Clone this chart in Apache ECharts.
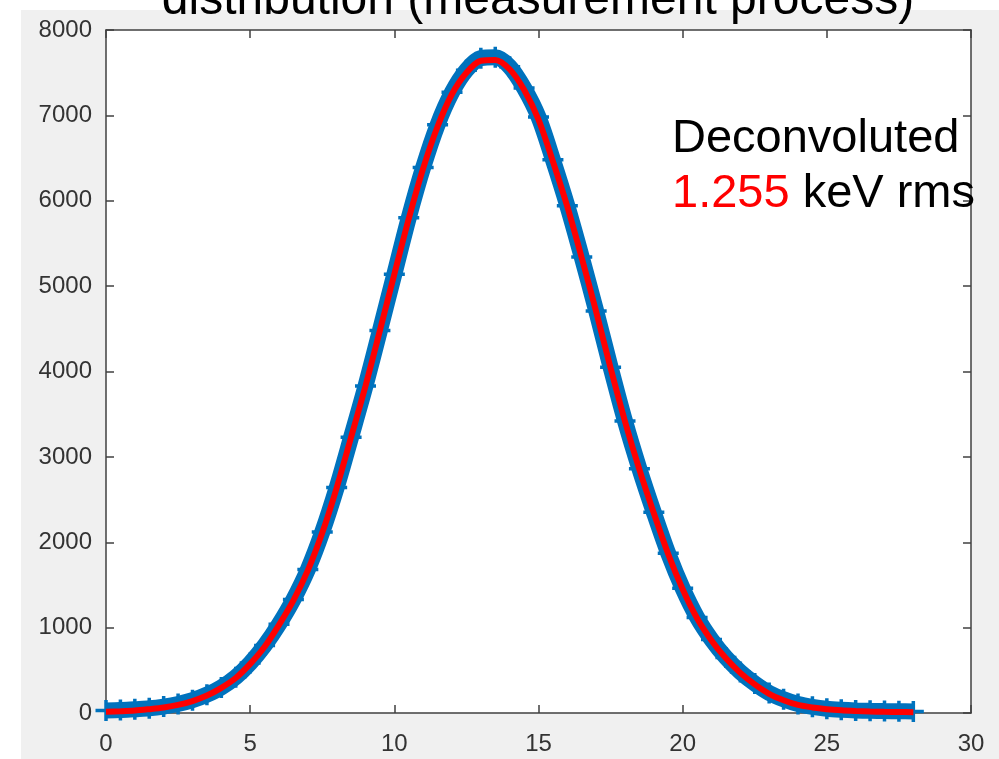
<!DOCTYPE html>
<html>
<head>
<meta charset="utf-8">
<script src="https://cdn.jsdelivr.net/npm/echarts@6/dist/echarts.min.js"></script>
<style>
html,body{margin:0;padding:0;background:#fff;}
#c{width:999px;height:759px;}
</style>
</head>
<body>
<div id="c"></div>
<script>
// Data
const energy = [0,0.5,1,1.5,2,2.5,3,3.5,4,4.5,5,5.5,6,6.5,7,7.5,8,8.5,9,9.5,10,10.5,11,11.5,12,12.5,13,13.5,14,14.5,15,15.5,16,16.5,17,17.5,18,18.5,19,19.5,20,20.5,21,21.5,22,22.5,23,23.5,24,24.5,25,25.5,26,26.5,27,27.5,28];
const measured = [30,35,45,55,75,105,150,215,300,420,585,790,1040,1330,1680,2120,2640,3230,3830,4480,5140,5800,6390,6890,7270,7530,7670,7680,7570,7320,6980,6480,5940,5340,4710,4050,3420,2860,2350,1870,1460,1120,860,650,480,345,235,160,105,72,50,38,30,25,22,20,18];
const fitted = [15,20,28,45,65,95,140,205,295,410,575,776,1033,1320,1670,2110,2638,3230,3830,4480,5140,5790,6380,6870,7250,7500,7640,7650,7540,7300,6950,6460,5930,5330,4700,4040,3415,2850,2340,1860,1450,1110,850,640,470,335,225,150,95,65,45,32,24,18,14,12,10];
const xTicks = {min:0, max:30, step:5};
const yTicks = {min:0, max:8000, step:1000};
const titleText = 'distribution (measurement process)';
const noteLine1 = 'Deconvoluted';
const noteValue = '1.255';
const noteUnit = ' keV rms';

const pairs = (xs, ys) => xs.map((x,i)=>[x, ys[i]]);
const FONT = '"Liberation Sans", Arial, sans-serif';
const axisColor = '#404040';

const chart = echarts.init(document.getElementById('c'), null, {renderer:'canvas'});
const commonX = {
  type:'value', min:xTicks.min, max:xTicks.max, interval:xTicks.step,
  axisLine:{show:true, onZero:false, lineStyle:{color:axisColor, width:1.5}},
  axisTick:{show:true, inside:true, length:8, lineStyle:{color:axisColor, width:1.5}},
  splitLine:{show:false}
};
const commonY = {
  type:'value', min:yTicks.min, max:yTicks.max, interval:yTicks.step,
  axisLine:{show:true, onZero:false, lineStyle:{color:axisColor, width:1.5}},
  axisTick:{show:true, inside:true, length:8, lineStyle:{color:axisColor, width:1.5}},
  splitLine:{show:false}
};
const plain = v => String(v);
chart.setOption({
  animation:false,
  backgroundColor:'#ffffff',
  grid:{left:106, right:28, top:30, bottom:46, show:true, backgroundColor:'#ffffff', borderWidth:0},
  xAxis:[
    Object.assign({}, commonX, {position:'bottom',
      axisLabel:{show:true, margin:19, fontSize:24, color:'#333333', fontFamily:FONT, formatter:plain}}),
    Object.assign({}, commonX, {position:'top', axisLabel:{show:false}})
  ],
  yAxis:[
    Object.assign({}, commonY, {position:'left',
      axisLabel:{show:true, margin:14, fontSize:24, color:'#333333', fontFamily:FONT, formatter:plain}}),
    Object.assign({}, commonY, {position:'right', axisLabel:{show:false}})
  ],
  series:[
    {
      type:'line', xAxisIndex:0, yAxisIndex:0,
      data:pairs(energy, measured),
      smooth:0.3, showSymbol:true, symbol:'path://M5,0H7V5H12V7H7V12H5V7H0V5H5Z',
      symbolSize:21, itemStyle:{color:'#0072BD'},
      lineStyle:{color:'#0072BD', width:16}, z:2
    },
    {
      type:'line', xAxisIndex:0, yAxisIndex:0,
      data:pairs(energy, fitted),
      smooth:0.3, showSymbol:false,
      lineStyle:{color:'#ff0000', width:6}, z:3
    }
  ],
  graphic:[
    {type:'rect', z:-10, silent:true, shape:{x:21, y:10, width:978, height:749}, style:{fill:'#f0f0f0'}},
    {type:'text', z:100, x:538, y:17 - 16.3,
      style:{text:titleText, fontSize:48, fontFamily:FONT, fill:'#000', align:'center', verticalAlign:'middle'}},
    {type:'text', z:100, x:672, y:155 - 16,
      style:{text:noteLine1, fontSize:47, fontFamily:FONT, fill:'#000', align:'left', verticalAlign:'middle'}},
    {type:'text', z:100, x:672, y:210 - 16,
      style:{text:'{r|'+noteValue+'}{k|'+noteUnit+'}', fontSize:47, fontFamily:FONT, fill:'#000', align:'left', verticalAlign:'middle',
        rich:{r:{fill:'#ff0000', fontSize:47, fontFamily:FONT}, k:{fill:'#000', fontSize:47, fontFamily:FONT}}}}
  ]
});
</script>
</body>
</html>
